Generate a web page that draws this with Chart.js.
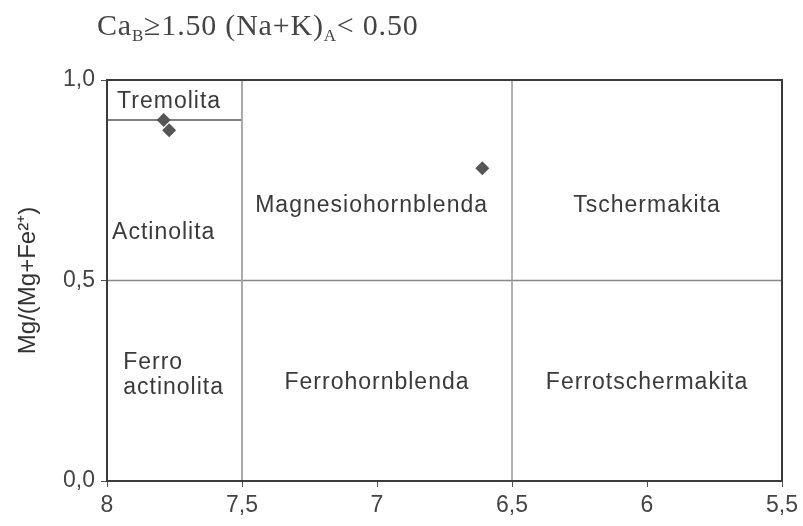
<!DOCTYPE html>
<html>
<head>
<meta charset="utf-8">
<script src="https://cdn.jsdelivr.net/npm/chart.js@4"></script>
<style>
html, body { margin: 0; padding: 0; background: #fff; }
#wrap { position: relative; width: 803px; height: 526px; }
#title { position: absolute; left: 97px; top: 8px; font: 30px "Liberation Serif", serif; color: #444; white-space: nowrap; letter-spacing: 0.8px; }
#title sub { font-size: 17px; vertical-align: -6px; }
</style>
</head>
<body>
<div id="wrap">
<div id="title">Ca<sub>B</sub>≥1.50 (Na+K)<sub>A</sub>&lt; 0.50</div>
<canvas id="c" width="803" height="526"></canvas>
</div>
<script>
"use strict";
// axis ticks
var xTicks = [8, 7.5, 7, 6.5, 6, 5.5];
var yTicks = [0, 0.5, 1];
// analysed amphiboles: Si (apfu) vs Mg/(Mg+Fe2+)
var sampleSi = [7.79, 7.77, 6.61];
var sampleMg = [0.90, 0.875, 0.78];
// field boundaries
var lineSi75 = [{ x: 7.5, y: 0 }, { x: 7.5, y: 1 }];
var lineSi65 = [{ x: 6.5, y: 0 }, { x: 6.5, y: 1 }];
var lineMg05 = [{ x: 8, y: 0.5 }, { x: 5.5, y: 0.5 }];
var lineTrem = [{ x: 8, y: 0.9 }, { x: 7.5, y: 0.9 }];
// field names
var fieldNames = ['Tremolita', 'Actinolita', 'Magnesiohornblenda', 'Tschermakita', ['Ferro', 'actinolita'], 'Ferrohornblenda', 'Ferrotschermakita'];
var fieldSi = [7.77, 7.79, 7.02, 6.0, 7.94, 7.0, 6.0];
var fieldMg = [0.945, 0.62, 0.686, 0.686, 0.265, 0.244, 0.244];
var fieldAlign = ['center', 'center', 'center', 'center', 'left', 'center', 'center'];

var FONT = '"Liberation Sans", Arial, sans-serif';
function comma(v) { return String(v).replace('.', ','); }

var fieldLabels = {
    id: 'fieldLabels',
    afterDatasetsDraw: function (chart) {
        var ctx = chart.ctx, xs = chart.scales.x, ys = chart.scales.y, a = chart.chartArea;
        ctx.save();
        ctx.strokeStyle = '#3a3a3a';
        ctx.lineWidth = 2;
        ctx.strokeRect(a.left, a.top, a.right - a.left, a.bottom - a.top);
        ctx.fillStyle = '#3a3a3a';
        ctx.font = '23px ' + FONT;
        ctx.letterSpacing = '1px';
        ctx.textBaseline = 'middle';
        fieldNames.forEach(function (n, i) {
            var lines = Array.isArray(n) ? n : [n];
            var px = xs.getPixelForValue(fieldSi[i]), py = ys.getPixelForValue(fieldMg[i]);
            ctx.textAlign = fieldAlign[i];
            lines.forEach(function (t, j) {
                ctx.fillText(t, px, py + (j - (lines.length - 1) / 2) * 25);
            });
        });
        ctx.restore();
    }
};

function boundary(data, color, width) {
    return { type: 'line', data: data, borderColor: color, borderWidth: width, pointRadius: 0, fill: false, order: 2 };
}

new Chart(document.getElementById('c'), {
    type: 'scatter',
    data: {
        datasets: [
            boundary(lineSi75, '#aaa', 2),
            boundary(lineSi65, '#999', 1.5),
            boundary(lineMg05, '#888', 1.5),
            boundary(lineTrem, '#555', 1.5),
            {
                data: sampleSi.map(function (x, i) { return { x: x, y: sampleMg[i] }; }),
                pointStyle: 'rectRot', pointRadius: 7, backgroundColor: '#555', borderColor: '#555', borderWidth: 0, order: 1
            }
        ]
    },
    options: {
        responsive: false,
        animation: false,
        layout: { padding: { left: 0, right: 20, top: 80, bottom: 0 } },
        plugins: { legend: { display: false }, tooltip: { enabled: false } },
        scales: {
            x: {
                type: 'linear', min: 5.5, max: 8, reverse: true,
                afterBuildTicks: function (s) { s.ticks = xTicks.map(function (v) { return { value: v }; }); },
                afterFit: function (s) { s.height = 45; },
                ticks: { color: '#444', font: { size: 23, family: FONT }, padding: 5, maxRotation: 0, callback: function (v) { return comma(v); } },
                grid: { drawOnChartArea: false, tickLength: 6, color: '#555' },
                border: { color: '#3a3a3a', width: 2 }
            },
            y: {
                type: 'linear', min: 0, max: 1,
                afterBuildTicks: function (s) { s.ticks = yTicks.map(function (v) { return { value: v }; }); },
                afterFit: function (s) { s.width = 107; },
                ticks: { color: '#444', font: { size: 23, family: FONT }, padding: 6, callback: function (v) { return v.toFixed(1).replace('.', ','); } },
                grid: { drawOnChartArea: false, tickLength: 6, color: '#555' },
                border: { color: '#3a3a3a', width: 2 },
                title: { display: true, text: 'Mg/(Mg+Fe²⁺)', color: '#333', font: { size: 24, family: FONT }, padding: { top: 14, bottom: 0 } }
            }
        }
    },
    plugins: [fieldLabels]
});
</script>
</body>
</html>
